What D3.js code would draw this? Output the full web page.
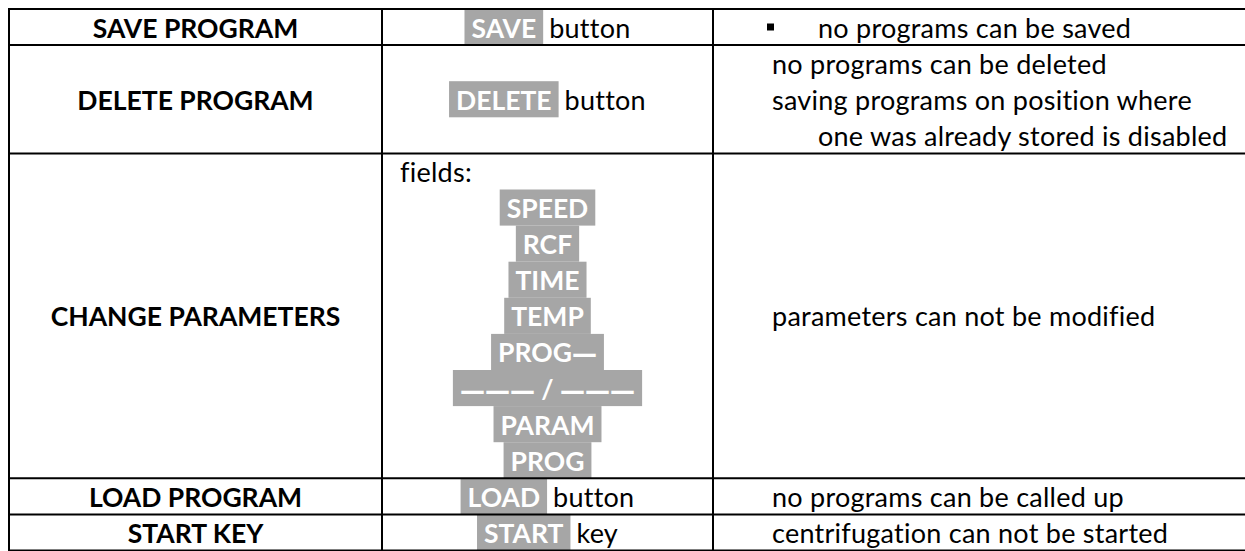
<!DOCTYPE html>
<html>
<head>
<meta charset="utf-8">
<script src="https://cdn.jsdelivr.net/npm/d3@7"></script>
<style>
  html, body { margin: 0; padding: 0; background: #ffffff; }
  svg { display: block; }
  text { font-family: "Lato", "Open Sans", sans-serif; font-size: 27px; letter-spacing: 0.25px; }
  text.b { font-size: 26.5px; font-weight: 700; letter-spacing: 0px; }
  tspan.dash { font-family: "DejaVu Sans", sans-serif; font-size: 25px; letter-spacing: 0px; }
</style>
</head>
<body>
<script>
// ---------------- data ----------------
const rowLabels = ["SAVE PROGRAM", "DELETE PROGRAM", "CHANGE PARAMETERS", "LOAD PROGRAM", "START KEY"];
const controlKeys = ["SAVE", "DELETE", "", "LOAD", "START"];
const controlWords = ["button", "button", "", "button", "key"];
const fieldIntro = "fields:";
const fieldKeys = ["SPEED", "RCF", "TIME", "TEMP", "PROG\u2014", "\u2014\u2014\u2014 / \u2014\u2014\u2014", "PARAM", "PROG"];
const effectLines = [
  ["no programs can be saved"],
  ["no programs can be deleted", "saving programs on position where", "one was already stored is disabled"],
  ["parameters can not be modified"],
  ["no programs can be called up"],
  ["centrifugation can not be started"]
];
const effectBullet = [true, false, false, false, false];
const effectIndent = [[1], [0, 0, 1], [0], [0], [0]];
const rowLines = [1, 3, 9, 1, 1];

// ---------------- layout ----------------
const W = 1245, H = 551;
const lineH = 36.1;
const tableTop = 9;
const baseOff = 28.5;
const pad = 7, gap = 6;
const hiColor = "#a6a6a6";

const svg = d3.select("body").append("svg").attr("width", W).attr("height", H);

const cum = [0, ...d3.cumsum(rowLines)];
const totalLines = d3.sum(rowLines);
const y = d3.scaleLinear().domain([0, totalLines]).range([tableTop, tableTop + lineH * totalLines]);

const cols = ["label", "control", "effect"];
const colLeft = d3.scaleOrdinal().domain(cols).range([9, 382, 713]);
const colRight = d3.scaleOrdinal().domain(cols).range([382, 713, 1380]);
const colCenter = c => (colLeft(c) + colRight(c)) / 2;
const effectX = 772, effectIndentX = 818, bulletX = 767;

const rows = rowLabels.map((label, i) => ({
  i, label,
  key: controlKeys[i], word: controlWords[i],
  lines: effectLines[i], bullet: effectBullet[i], indent: effectIndent[i],
  top: y(cum[i]), bottom: y(cum[i + 1])
}));

// ---------------- column 1 ----------------
svg.append("g").selectAll("text").data(rows).join("text")
  .attr("class", "b")
  .attr("x", colCenter("label"))
  .attr("y", d => (d.top + d.bottom) / 2 - lineH / 2 + baseOff)
  .attr("text-anchor", "middle")
  .attr("fill", "#000")
  .text(d => d.label);

// ---------------- column 2 ----------------
const ctrl = svg.append("g");
rows.filter(d => d.key).forEach(d => {
  const g = ctrl.append("g");
  const lineTop = (d.top + d.bottom) / 2 - lineH / 2;
  const rect = g.append("rect").attr("fill", hiColor);
  const kt = g.append("text").attr("class", "b").attr("fill", "#fff").text(d.key);
  const wt = g.append("text").attr("fill", "#000").text(d.word);
  const kw = kt.node().getComputedTextLength();
  const ww = wt.node().getComputedTextLength();
  const total = pad + kw + pad + gap + ww;
  const sx = colCenter("control") - total / 2;
  rect.attr("x", sx).attr("y", lineTop).attr("width", kw + 2 * pad).attr("height", lineH);
  kt.attr("x", sx + pad).attr("y", lineTop + baseOff);
  wt.attr("x", sx + 2 * pad + kw + gap).attr("y", lineTop + baseOff);
});

// fields list (row 3)
const fr = rows[2];
svg.append("text")
  .attr("x", 400).attr("y", fr.top + baseOff)
  .attr("fill", "#000").text(fieldIntro);
const fg = svg.append("g");
fieldKeys.forEach((f, k) => {
  const lineTop = y(cum[2] + 1 + k);
  const g = fg.append("g");
  const rect = g.append("rect").attr("fill", hiColor);
  const t = g.append("text").attr("class", "b").attr("fill", "#fff")
    .attr("text-anchor", "middle")
    .attr("x", colCenter("control")).attr("y", lineTop + baseOff);
  // split into dash runs / other runs so dashes join into solid bars
  const parts = f.match(/\u2014+|[^\u2014]+/g);
  parts.forEach(p => {
    t.append("tspan").attr("class", p[0] === "\u2014" ? "dash" : null).text(p);
  });
  const tw = t.node().getComputedTextLength();
  rect.attr("x", colCenter("control") - tw / 2 - pad).attr("y", lineTop)
    .attr("width", tw + 2 * pad).attr("height", lineH);
});

// ---------------- column 3 ----------------
const eg = svg.append("g");
rows.forEach(d => {
  const n = d.lines.length;
  const blockTop = (d.top + d.bottom) / 2 - n * lineH / 2;
  d.lines.forEach((ln, k) => {
    const base = blockTop + k * lineH + baseOff;
    eg.append("text")
      .attr("x", d.indent[k] ? effectIndentX : effectX)
      .attr("y", base).attr("fill", "#000").text(ln);
    if (d.bullet && k === 0) {
      eg.append("rect").attr("x", bulletX).attr("y", base - 14)
        .attr("width", 7).attr("height", 7).attr("fill", "#000");
    }
  });
});

// ---------------- grid ----------------
const grid = svg.append("g").attr("stroke", "#000").attr("stroke-width", 2);
grid.selectAll("line.h").data(cum).join("line").attr("class", "h")
  .attr("x1", colLeft("label") - 1).attr("x2", W)
  .attr("y1", d => y(d)).attr("y2", d => y(d));
grid.selectAll("line.v").data(cols).join("line").attr("class", "v")
  .attr("x1", d => colLeft(d)).attr("x2", d => colLeft(d))
  .attr("y1", y(0) - 1).attr("y2", y(totalLines) + 1);
</script>
</body>
</html>
